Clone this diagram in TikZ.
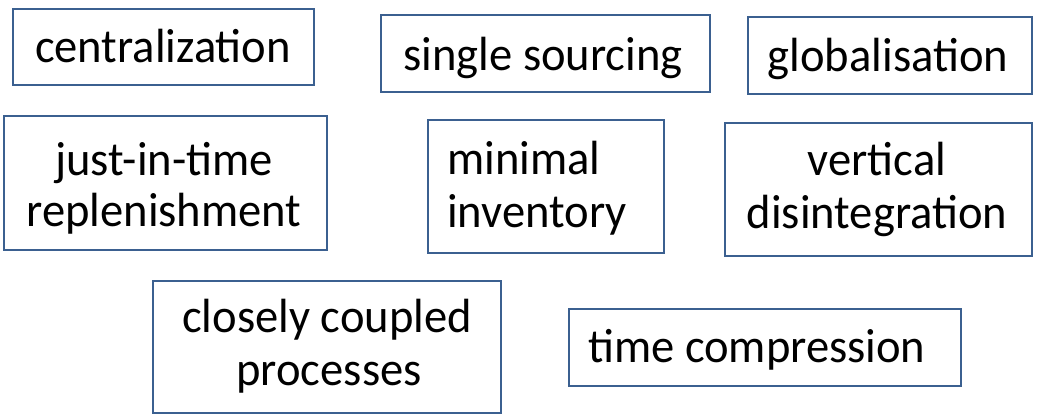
\documentclass[tikz,border=0pt]{standalone}
\usepackage{fontspec}
\setmainfont{Carlito}[FakeStretch=0.97]
\definecolor{boxblue}{HTML}{3B6090}
\tikzset{
  box/.style={draw=boxblue, line width=1.6pt, fill=white},
  lbl/.style={anchor=base, inner sep=0pt, font=\fontsize{48}{52}\selectfont, text=black}
}
\begin{document}
\begin{tikzpicture}[x=1pt,y=-1pt]
\useasboundingbox[fill=white] (0,0) rectangle (1038,419);
% boxes
\draw[box] (13,9) rectangle (314,85);
\draw[box] (381,15) rectangle (710,92);
\draw[box] (748,17) rectangle (1032,94);
\draw[box] (4,116) rectangle (327,250);
\draw[box] (428,120) rectangle (664,253);
\draw[box] (725,123) rectangle (1032,256);
\draw[box] (153,281) rectangle (501,413);
\draw[box] (569,309) rectangle (961,386);
% labels
\node[lbl] (t1) at (163,63) {centralization};
\node[lbl] (t2) at (543,71) {single sourcing};
\node[lbl] (t3) at (888,72) {globalisation};
\node[lbl] (t4a) at (164,176) {just-in-time};
\node[lbl] (t4b) at (164,227) {replenishment};
\node[lbl, anchor=base west] (t5a) at (447,175) {minimal};
\node[lbl, anchor=base west] (t5b) at (447,228) {inventory};
\node[lbl] (t6a) at (877,176) {vertical};
\node[lbl] (t6b) at (877,229) {disintegration};
\node[lbl] (t7a) at (327,333) {closely coupled};
\node[lbl] (t7b) at (329,385) {processes};
\node[lbl, anchor=base west] (t8) at (588,362) {time compression};
\end{tikzpicture}
\end{document}
